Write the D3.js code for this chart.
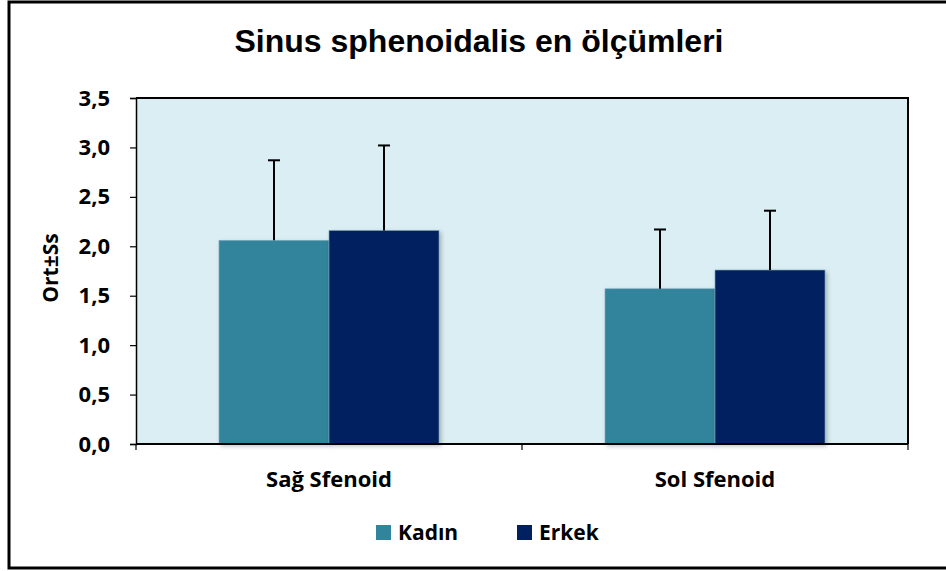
<!DOCTYPE html>
<html>
<head>
<meta charset="utf-8">
<script src="https://cdn.jsdelivr.net/npm/d3@7"></script>
<style>
  body { margin: 0; background: #fff; }
  svg { display: block; }
</style>
</head>
<body>
<script>
const categories = ["Sağ Sfenoid", "Sol Sfenoid"];
const series = ["Kadın", "Erkek"];
const means = {
  "Kadın": [2.06, 1.57],
  "Erkek": [2.16, 1.76]
};
const sds = {
  "Kadın": [0.81, 0.60],
  "Erkek": [0.86, 0.60]
};
const yTicks = [0, 0.5, 1, 1.5, 2, 2.5, 3, 3.5];

const colors = { "Kadın": "#31849b", "Erkek": "#002060" };
const labelFont = "'Open Sans', 'Noto Sans', sans-serif";

const width = 946, height = 571;
const m = { top: 98, right: 38, bottom: 127, left: 136 };
const iw = width - m.left - m.right;
const ih = height - m.top - m.bottom;

const svg = d3.select("body").append("svg")
  .attr("width", width)
  .attr("height", height);

// outer chart frame
svg.append("rect")
  .attr("x", 9).attr("y", 2)
  .attr("width", 950).attr("height", 566)
  .attr("fill", "#fff")
  .attr("stroke", "#000")
  .attr("stroke-width", 3);

svg.append("text")
  .attr("x", 479).attr("y", 52)
  .attr("text-anchor", "middle")
  .attr("font-family", "'Liberation Sans', Arial, sans-serif")
  .attr("font-weight", "bold")
  .attr("font-size", 32)
  .text("Sinus sphenoidalis en ölçümleri");

const g = svg.append("g").attr("transform", `translate(${m.left},${m.top})`);

const x = d3.scaleBand().domain(categories).range([0, iw]);
const bw = 110;
const x1 = d3.scaleBand().domain(series).range([-bw, bw]);
const y = d3.scaleLinear().domain([0, 3.5]).range([ih, 0]);

g.append("rect")
  .attr("width", iw).attr("height", ih)
  .attr("fill", "#daeef3");

// plot border top & right
g.append("path")
  .attr("d", `M0,0H${iw}V${ih}`)
  .attr("fill", "none")
  .attr("stroke", "#000")
  .attr("stroke-width", 2);

const rows = categories.flatMap((c, i) =>
  series.map(s => ({ cat: c, s, v: means[s][i], sd: sds[s][i] })));

g.selectAll("rect.bar")
  .data(rows)
  .join("rect")
  .attr("class", "bar")
  .attr("x", d => x(d.cat) + x.bandwidth() / 2 + x1(d.s))
  .attr("y", d => y(d.v))
  .attr("width", x1.bandwidth())
  .attr("height", d => ih - y(d.v))
  .attr("fill", d => colors[d.s])
  .attr("stroke", "#7fa9bd")
  .attr("stroke-width", 0.6)
  .style("filter", "drop-shadow(2px 2px 2px rgba(0,0,0,0.25))");

const err = g.selectAll("g.err")
  .data(rows)
  .join("g")
  .attr("class", "err")
  .attr("transform", d => `translate(${x(d.cat) + x.bandwidth() / 2 + x1(d.s) + x1.bandwidth() / 2},0)`);

err.append("line")
  .attr("y1", d => y(d.v))
  .attr("y2", d => y(d.v + d.sd))
  .attr("stroke", "#000").attr("stroke-width", 2);

err.append("line")
  .attr("x1", -6).attr("x2", 6)
  .attr("y1", d => y(d.v + d.sd))
  .attr("y2", d => y(d.v + d.sd))
  .attr("stroke", "#000").attr("stroke-width", 2);

// y axis
const yAxis = g.append("g")
  .call(d3.axisLeft(y).tickValues(yTicks).tickSize(6).tickPadding(20)
    .tickFormat(d => d3.format(".1f")(d).replace(".", ",")));
yAxis.select(".domain").attr("stroke-width", 1.5);
yAxis.selectAll("line").attr("stroke-width", 1.2);
yAxis.selectAll("text")
  .attr("font-family", labelFont)
  .attr("font-weight", "bold")
  .attr("font-size", 22)
  .attr("fill", "#000");

// x axis
const xAxis = g.append("g")
  .attr("transform", `translate(0,${ih})`)
  .call(d3.axisBottom(x).tickSize(0).tickPadding(27));
xAxis.select(".domain").attr("stroke-width", 2).attr("d", `M0,0H${iw}`);
xAxis.selectAll("text")
  .attr("font-family", labelFont)
  .attr("font-weight", "bold")
  .attr("font-size", 22)
  .attr("fill", "#000");
xAxis.selectAll("line.sep")
  .data([0, iw / 2, iw])
  .join("line")
  .attr("class", "sep")
  .attr("x1", d => d).attr("x2", d => d)
  .attr("y1", 0).attr("y2", 6)
  .attr("stroke", "#000").attr("stroke-width", 1.2);

svg.append("text")
  .attr("transform", "translate(58,268) rotate(-90)")
  .attr("text-anchor", "middle")
  .attr("font-family", labelFont)
  .attr("font-weight", "bold")
  .attr("font-size", 21)
  .text("Ort±Ss");

// legend
const legendX = [376, 517];
const lg = svg.selectAll("g.legend")
  .data(series)
  .join("g")
  .attr("class", "legend")
  .attr("transform", (d, i) => `translate(${legendX[i]},525)`);
lg.append("rect")
  .attr("width", 15).attr("height", 15)
  .attr("fill", d => colors[d]);
lg.append("text")
  .attr("x", 22).attr("y", 15)
  .attr("font-family", labelFont)
  .attr("font-weight", "bold")
  .attr("font-size", 21)
  .text(d => d);
</script>
</body>
</html>
